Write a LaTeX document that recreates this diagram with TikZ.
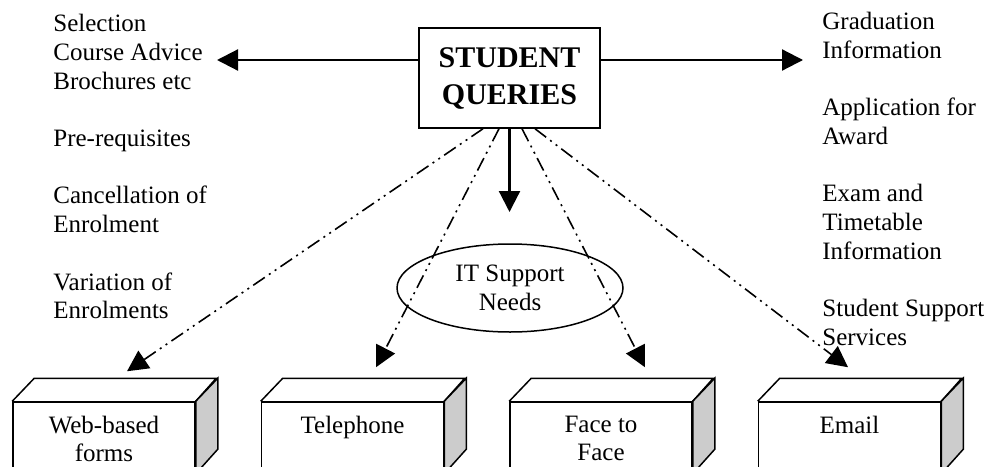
\documentclass[tikz,border=0pt]{standalone}
\usepackage{fontspec}
\setmainfont{Liberation Serif}
\usetikzlibrary{arrows.meta,shapes.geometric}

\begin{document}
\begin{tikzpicture}[x=0.5pt,y=-0.5pt,
	txt/.style={font=\fontsize{12.5}{14.35}\selectfont,inner sep=0pt},
	solidarrow/.style={line width=1.1pt,-{Triangle[length=10.5pt,width=10.5pt]}},
	dotarrow/.style={line width=0.8pt,dash pattern=on 7pt off 2.5pt on 1pt off 2.5pt on 1pt off 2.5pt,-{Triangle[length=10.5pt,width=10.5pt]}},
	front/.style={draw,line width=0.75pt,fill=white,minimum width=91pt,minimum height=35.5pt,inner sep=0pt},
	side/.style={draw,line width=0.75pt,fill=black!20}]
		\useasboundingbox (0,0) rectangle (988,466);
		\clip (0,0) rectangle (988,466);
		
		\node [draw,line width=0.75pt,font=\fontsize{15}{18.5}\selectfont\bfseries,align=center,minimum width=90.5pt,minimum height=50pt,inner sep=0pt] (queries) at (509.5,78) {STUDENT\\QUERIES};
		
		\node [txt,anchor=north west,align=left] (topics) at (53,14) {Selection\\Course Advice\\Brochures etc\\ \\Pre-requisites\\ \\Cancellation of\\Enrolment\\ \\Variation of\\Enrolments};
		\node [txt,anchor=north west,align=left] (outcomes) at (822,12) {Graduation\\Information\\ \\Application for\\Award\\ \\Exam and\\Timetable\\Information\\ \\Student Support\\Services};
		
		\node [txt,ellipse,draw,line width=0.75pt,align=center,minimum width=113pt,minimum height=44pt] (needs) at (510,288) {IT Support\\Needs};
		
		% the four channels
		\node [front] (web) at (104,437.5) {};
		\draw [line width=0.75pt] (web.north west) -- ++(22,-23) -- ++(182,0) -- (web.north east);
		\draw [side] (web.north east) -- ++(22,-23) -- ++(0,71) -- (web.south east) -- cycle;
		\node [txt,anchor=north,align=center] (webtext) at ([yshift=-7pt]web.north) {Web-based\\forms};
		
		\node [front] (phone) at (352.5,437.5) {};
		\draw [line width=0.75pt] (phone.north west) -- ++(22,-23) -- ++(182,0) -- (phone.north east);
		\draw [side] (phone.north east) -- ++(22,-23) -- ++(0,71) -- (phone.south east) -- cycle;
		\node [txt,anchor=north,align=center] (phonetext) at ([yshift=-7pt]phone.north) {Telephone};
		
		\node [front] (face) at (601,437.5) {};
		\draw [line width=0.75pt] (face.north west) -- ++(22,-23) -- ++(182,0) -- (face.north east);
		\draw [side] (face.north east) -- ++(22,-23) -- ++(0,71) -- (face.south east) -- cycle;
		\node [txt,anchor=north,align=center] (facetext) at ([yshift=-7pt]face.north) {Face to\\Face};
		
		\node [front] (email) at (849.5,437.5) {};
		\draw [line width=0.75pt] (email.north west) -- ++(22,-23) -- ++(182,0) -- (email.north east);
		\draw [side] (email.north east) -- ++(22,-23) -- ++(0,71) -- (email.south east) -- cycle;
		\node [txt,anchor=north,align=center] (emailtext) at ([yshift=-7pt]email.north) {Email};
		
		% solid arrows
		\coordinate (lefttip) at (217,60);
		\coordinate (righttip) at (803,60);
		\coordinate (downtip) at (509.5,212);
		\draw [solidarrow] (queries.west |- lefttip) -- (lefttip);
		\draw [solidarrow] (queries.east |- righttip) -- (righttip);
		\draw [solidarrow] (queries.south) -- (downtip);
		
		% dash-dot arrows
		\draw [dotarrow] ([xshift=-13.25pt]queries.south) -- ([xshift=11.5pt,yshift=15pt]web.north);
		\draw [dotarrow] ([xshift=-5.25pt]queries.south) -- ([xshift=11.75pt,yshift=17pt]phone.north);
		\draw [dotarrow] ([xshift=6.25pt]queries.south) -- ([xshift=22pt,yshift=17pt]face.north);
		\draw [dotarrow] ([xshift=12.75pt]queries.south) -- ([xshift=-0.75pt,yshift=17pt]email.north);
\end{tikzpicture}
\end{document}
